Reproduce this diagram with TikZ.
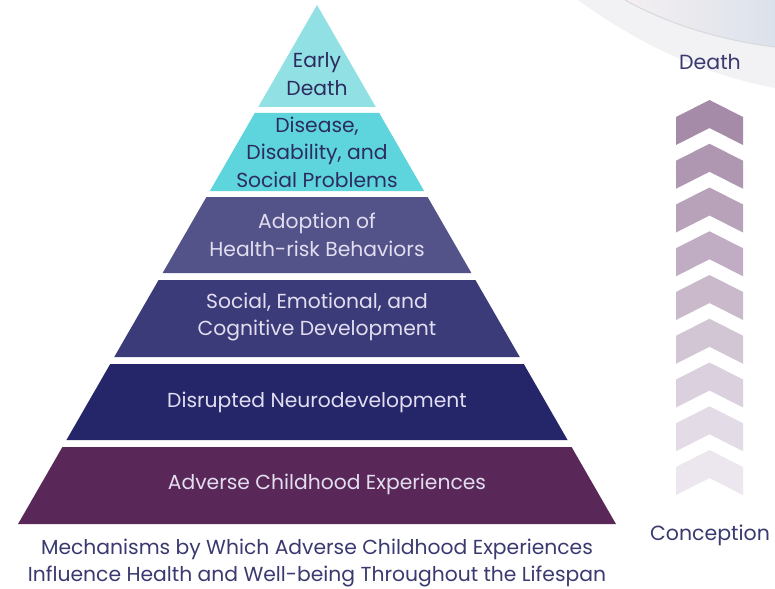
\documentclass[tikz,border=0pt]{standalone}
\usepackage{fontspec}
\setmainfont{Poppins}
\begin{document}
\begin{tikzpicture}[x=1pt,y=-1pt]
  % colours
  \definecolor{tierA}{HTML}{91E0E4}
  \definecolor{tierB}{HTML}{5ED5DC}
  \definecolor{tierC}{HTML}{53538A}
  \definecolor{tierD}{HTML}{3B3B7A}
  \definecolor{tierE}{HTML}{25266A}
  \definecolor{tierF}{HTML}{5A2858}
  \definecolor{darktext}{HTML}{2C2C60}
  \definecolor{lighttext}{HTML}{E2DEF0}
  \definecolor{captext}{HTML}{3A3A70}
  \definecolor{chevtop}{RGB}{166,139,168}
  \definecolor{chevbot}{RGB}{236,231,239}
  \definecolor{bandgray}{HTML}{F2F1F4}
  \definecolor{arcleft}{HTML}{F4EFF1}
  \definecolor{arcright}{HTML}{DCE2EB}
  \definecolor{arcline}{HTML}{D8D8DF}
  \tikzset{
    tiertext/.style={align=center, font=\fontsize{20.3}{27.5}\selectfont, inner sep=0pt},
    sidetext/.style={font=\fontsize{20.5}{24}\selectfont, text=captext, inner sep=0pt},
  }
  \useasboundingbox (0,0) rectangle (775,588);
  \fill[white] (0,0) rectangle (775,588);

  % background sweep in the upper right corner
  \fill[bandgray] (578,0) .. controls (640,45) and (705,75) .. (775,88) -- (775,0) -- cycle;
  \shade[left color=arcleft, right color=arcright]
    (625,0) .. controls (668,24) and (720,40) .. (775,47) -- (775,0) -- cycle;
  \draw[arcline, line width=1pt] (625,0) .. controls (668,24) and (720,40) .. (775,47);

  % pyramid tiers: apex (317,5), sides slope 0.576
  \newcommand{\tier}[3]{%
    \fill[#3] ({317-0.576*(#1-5)},#1) -- ({317+0.576*(#1-5)},#1)
      -- ({317+0.576*(#2-5)},#2) -- ({317-0.576*(#2-5)},#2) -- cycle;}
  \fill[tierA] (317,5) -- ({317+0.576*102},107) -- ({317-0.576*102},107) -- cycle;
  \tier{113}{191}{tierB}
  \tier{197}{273}{tierC}
  \tier{280}{357}{tierD}
  \tier{364}{440}{tierE}
  \tier{447}{524}{tierF}

  % tier labels
  \node[tiertext, text=darktext] (early) at (317,74) {Early\\Death};
  \node[tiertext, text=darktext] (disease) at (317,152) {Disease,\\Disability, and\\Social Problems};
  \node[tiertext, text=lighttext] (adopt) at (317,235) {Adoption of\\Health-risk Behaviors};
  \node[tiertext, text=lighttext] (social) at (317,317) {Social, Emotional, and\\Cognitive Development};
  \node[tiertext, text=lighttext] (neuro) at (317,402) {Disrupted Neurodevelopment};
  \node[tiertext, text=lighttext] (ace) at (327,484) {Adverse Childhood Experiences};

  % caption
  \node[tiertext, text=captext] (caption) at (317,563)
    {Mechanisms by Which Adverse Childhood Experiences\\Influence Health and Well-being Throughout the Lifespan};

  % lifespan arrow of stacked chevrons
  \foreach \i in {0,...,8} {
    \pgfmathsetmacro{\ya}{100+43.75*\i}
    \pgfmathsetmacro{\pc}{100-12.5*\i}
    \fill[chevtop!\pc!chevbot] (709.5,\ya) -- (743,\ya+17) -- (743,\ya+45)
      -- (709.5,\ya+28) -- (676,\ya+45) -- (676,\ya+17) -- cycle;
  }
  \node[sidetext] (death) at (710,62) {Death};
  \node[sidetext] (conception) at (710,535) {Conception};
\end{tikzpicture}
\end{document}
